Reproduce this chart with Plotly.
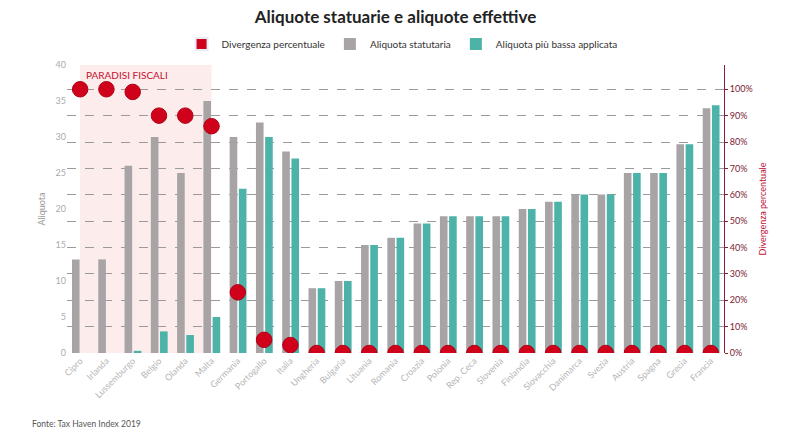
import plotly.graph_objects as go

countries = ["Cipro", "Irlanda", "Lussemburgo", "Belgio", "Olanda", "Malta", "Germania",
             "Portogallo", "Italia", "Ungheria", "Bulgaria", "Lituania", "Romania", "Croazia",
             "Polonia", "Rep. Ceca", "Slovenia", "Finlandia", "Slovacchia", "Danimarca",
             "Svezia", "Austria", "Spagna", "Grecia", "Francia"]
statutaria = [13, 13, 26, 30, 25, 35, 30, 32, 28, 9, 10, 15, 16, 18, 19, 19, 19, 20, 21, 22,
              22, 25, 25, 29, 34]
piu_bassa = [0, 0, 0.3, 3, 2.5, 5, 22.8, 30, 27, 9, 10, 15, 16, 18, 19, 19, 19, 20, 21, 22,
             22, 25, 25, 29, 34.4]
divergenza = [100, 100, 99, 90, 90, 86, 23, 5, 3, 0, 0, 0, 0, 0, 0, 0, 0, 0, 0, 0, 0, 0, 0, 0, 0]
right_ticks = list(range(0, 101, 10))

FONT = "Lato"
RED = "#d0021b"
GRAY = "#a8a3a5"
TEAL = "#4db3a9"

fig = go.Figure()

# legend-only square for the red series
fig.add_trace(go.Bar(x=[countries[0]], y=[None], name="Divergenza percentuale",
                     marker=dict(color=RED), showlegend=True, width=0.29, offset=-0.31,
                     hoverinfo="skip"))
fig.add_trace(go.Bar(x=countries, y=statutaria, name="Aliquota statutaria",
                     marker=dict(color=GRAY, line=dict(width=0)), width=0.29, offset=-0.31))
fig.add_trace(go.Bar(x=countries, y=piu_bassa, name="Aliquota più bassa applicata",
                     marker=dict(color=TEAL, line=dict(width=0)), width=0.29, offset=0.04))
fig.add_trace(go.Scatter(x=countries, y=divergenza, yaxis="y2", mode="markers",
                         name="Divergenza percentuale", showlegend=False,
                         marker=dict(color=RED, size=15.5, line=dict(color="#b00016", width=1))))

fig.add_shape(type="rect", xref="x", yref="paper", x0=0, x1=5, y0=0, y1=1,
              fillcolor="rgba(238,160,160,0.2)", line=dict(width=0), layer="below")
fig.add_annotation(xref="x", yref="paper", x=0.15, y=0.965, xanchor="left", yanchor="middle",
                   text="PARADISI FISCALI", showarrow=False,
                   font=dict(family=FONT, size=10, color="#c8102e"))
fig.add_annotation(xref="paper", yref="paper", x=-0.056, y=-0.245, xanchor="left",
                   yanchor="middle", text="Fonte: Tax Haven Index 2019", showarrow=False,
                   font=dict(family=FONT, size=8.5, color="#555555"))

fig.update_layout(
    width=800, height=440,
    margin=dict(l=67, r=76, t=65, b=87, autoexpand=False),
    paper_bgcolor="white", plot_bgcolor="white",
    barmode="overlay",
    font=dict(family=FONT, color="#444"),
    title=dict(text="<b>Aliquote statuarie e aliquote effettive</b>", x=0.5, xanchor="center",
               xref="paper", y=1 - 17 / 440, yref="container", yanchor="middle",
               font=dict(family=FONT, size=17, color="#222222")),
    legend=dict(orientation="h", x=0.51, xanchor="center", xref="paper",
                y=1 - 44 / 440, yref="container", yanchor="middle",
                font=dict(family=FONT, size=10, color="#333333"), traceorder="normal",
                itemsizing="constant", itemwidth=30),
    xaxis=dict(tickangle=-45, tickfont=dict(family=FONT, size=9, color="#b5b5b5"),
               showline=False, showgrid=False, ticks="", range=[-0.5, 24.5]),
    yaxis=dict(range=[0, 40], dtick=5, showgrid=False, zeroline=False, showline=False,
               tickfont=dict(family=FONT, size=9, color="#aaaaaa"),
               title=dict(text="Aliquota", font=dict(family=FONT, size=9, color="#999999"),
                          standoff=8)),
    yaxis2=dict(overlaying="y", side="right", range=[0, 109.2], tickvals=right_ticks,
                ticktext=[f"{v}%" for v in right_ticks],
                showgrid=True, griddash="dash", gridcolor="#9a9a9a", gridwidth=1,
                zeroline=False, showline=True, linecolor="#8b1e3f", linewidth=1,
                ticks="outside", ticklen=3, tickcolor="#8b1e3f",
                tickfont=dict(family=FONT, size=9, color="#7a1a35"),
                title=dict(text="Divergenza percentuale",
                           font=dict(family=FONT, size=9, color="#c0143c"), standoff=8)),
)

fig.write_html("out.html")
